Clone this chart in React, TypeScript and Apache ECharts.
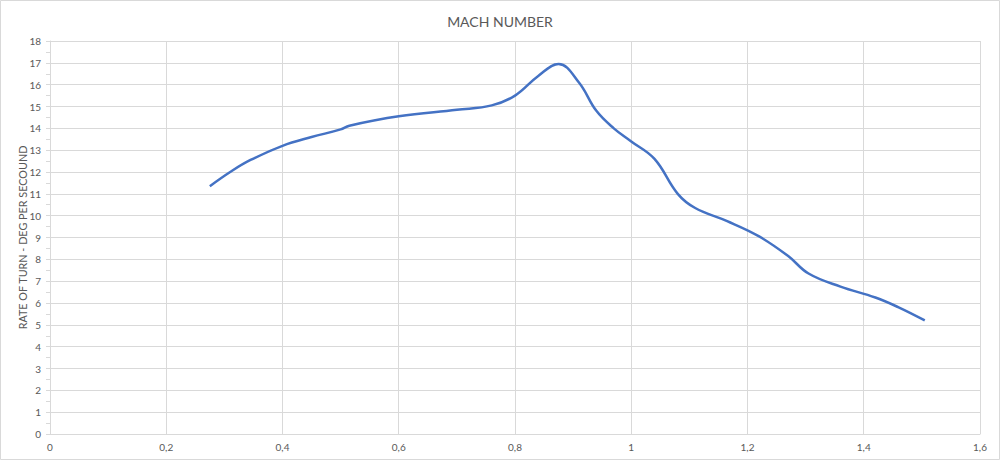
import React, { useEffect, useRef } from "react";
import * as echarts from "echarts";

const machValues: number[] = [
  0.275, 0.31, 0.345, 0.4, 0.45, 0.5, 0.515, 0.6, 0.7, 0.76, 0.8, 0.84, 0.875, 0.91, 0.94, 0.97,
  1.0, 1.04, 1.08, 1.11, 1.165, 1.22, 1.27, 1.305, 1.36, 1.42, 1.46, 1.505,
];
const turnRates: number[] = [
  11.35, 12.0, 12.55, 13.2, 13.6, 13.95, 14.12, 14.55, 14.85, 15.05, 15.5, 16.4, 16.95, 16.1, 14.8, 14.0,
  13.4, 12.6, 11.0, 10.35, 9.75, 9.05, 8.15, 7.35, 6.75, 6.25, 5.8, 5.2,
];
const chartTitle = "MACH NUMBER";
const yAxisTitle = "RATE OF TURN - DEG PER SECOUND";

export default function App() {
  const ref = useRef<HTMLDivElement>(null);
  useEffect(() => {
    if (!ref.current) return;
    const chart = echarts.init(ref.current, null, { renderer: "svg" });
    const font = "Lato, 'Open Sans', sans-serif";
    const fmt = (v: number) => String(Number(v.toFixed(1))).replace(".", ",");
    chart.setOption({
      animation: false,
      backgroundColor: "#ffffff",
      title: {
        text: chartTitle,
        left: "center",
        top: 9,
        textStyle: { fontFamily: font, fontSize: 14, fontWeight: "normal", color: "#595959" },
      },
      graphic: [
        {
          type: "rect",
          shape: { x: 0.5, y: 0.5, width: 999, height: 459 },
          style: { fill: "none", stroke: "#d9d9d9", lineWidth: 1 },
          silent: true,
        },
      ],
      grid: { left: 50, right: 20, top: 41, bottom: 26, containLabel: false },
      xAxis: {
        type: "value",
        min: 0,
        max: 1.6,
        interval: 0.2,
        axisLine: { show: true, lineStyle: { color: "#d9d9d9" } },
        axisTick: { show: false },
        splitLine: { show: true, lineStyle: { color: "#d9d9d9", width: 1 } },
        axisLabel: { formatter: fmt, fontFamily: font, fontSize: 10, color: "#595959", margin: 8 },
      },
      yAxis: {
        type: "value",
        min: 0,
        max: 18,
        interval: 1,
        name: yAxisTitle,
        nameLocation: "middle",
        nameGap: 22,
        nameMoveOverlap: false,
        nameTextStyle: { fontFamily: font, fontSize: 10.8, color: "#595959" },
        axisLine: { show: true, lineStyle: { color: "#d9d9d9" } },
        axisTick: { show: true, length: 4, lineStyle: { color: "#d9d9d9" } },
        minorTick: { show: true, splitNumber: 2, length: 4, lineStyle: { color: "#d9d9d9" } },
        splitLine: { show: true, lineStyle: { color: "#d9d9d9", width: 1 } },
        axisLabel: { fontFamily: font, fontSize: 10, color: "#595959", margin: 9 },
      },
      series: [
        {
          type: "line",
          data: machValues.map((x, i) => [x, turnRates[i]]),
          smooth: 0.4,
          showSymbol: false,
          lineStyle: { color: "#4472C4", width: 2.5 },
        },
      ],
    });
    return () => chart.dispose();
  }, []);
  return (
    <div
      ref={ref}
      style={{ position: "fixed", left: 0, top: 0, width: 1000, height: 460 }}
    />
  );
}
